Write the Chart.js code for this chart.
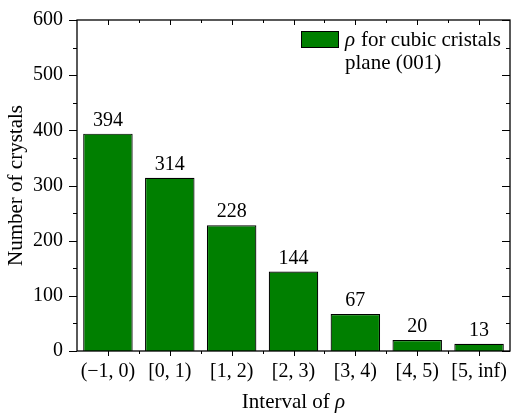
<!DOCTYPE html>
<html lang="en">
  <head>
    <meta charset="UTF-8">
    <title>Crystals</title>
    <style>
      html, body { margin: 0; padding: 0; background: #fff; }
      #wrap { width: 513px; height: 413px; }
    </style>
  </head>
  <body>
    <div id="wrap"><canvas id="myChart" width="513" height="413"></canvas></div>

    <script src="https://cdn.jsdelivr.net/npm/chart.js"></script>
    <script>
      const categories = ["(\u22121, 0)", "[0, 1)", "[1, 2)", "[2, 3)", "[3, 4)", "[4, 5)", "[5, inf)"];
      const counts = [394, 314, 228, 144, 67, 20, 13];
      const yTicks = [0, 100, 200, 300, 400, 500, 600];
      const legendLines = ["for cubic cristals", "plane (001)"];

      const serif = "'Liberation Serif', 'DejaVu Serif', serif";

      // frame, ticks, value labels, legend, x title
      const decor = {
        id: "decor",
        afterDatasetsDraw(chart) {
          const c = chart.ctx;
          const a = chart.chartArea;
          const x = chart.scales.x, y = chart.scales.y;
          c.save();
          c.strokeStyle = "#000";
          c.lineWidth = 1.3;
          c.strokeRect(a.left, a.top, a.right - a.left, a.bottom - a.top);

          c.lineWidth = 1;
          c.beginPath();
          for (let v = 0; v <= 600; v += 50) {
            const py = Math.round(y.getPixelForValue(v)) + 0.5;
            const len = v % 100 === 0 ? 8 : 4;
            c.moveTo(a.left - len, py); c.lineTo(a.left, py);
            c.moveTo(a.right, py); c.lineTo(a.right - len, py);
          }
          for (let i = 0; i < categories.length; i++) {
            const px = Math.round(x.getPixelForValue(i)) + 0.5;
            c.moveTo(px, a.bottom); c.lineTo(px, a.bottom + 5);
            c.moveTo(px, a.top); c.lineTo(px, a.top + 5);
            if (i > 0) {
              const bx = Math.round(x.getPixelForValue(i - 0.5)) + 0.5;
              c.moveTo(bx, a.bottom); c.lineTo(bx, a.bottom + 3);
              c.moveTo(bx, a.top); c.lineTo(bx, a.top + 3);
            }
          }
          c.stroke();

          // value labels
          c.fillStyle = "#000";
          c.font = "20px " + serif;
          c.textAlign = "center";
          c.textBaseline = "bottom";
          chart.getDatasetMeta(0).data.forEach((bar, i) => {
            c.fillText(String(counts[i]), bar.x, bar.y - 3);
          });

          // legend (no box)
          c.fillStyle = "#007f00";
          c.fillRect(301, 31, 38, 17);
          c.strokeStyle = "#000";
          c.strokeRect(301.5, 31.5, 37, 16);
          c.fillStyle = "#000";
          c.textAlign = "left";
          c.textBaseline = "middle";
          c.font = "italic 21px " + serif;
          c.fillText("\u03c1", 345, 40);
          const rw = c.measureText("\u03c1").width + 6;
          c.font = "21px " + serif;
          c.fillText(legendLines[0], 345 + rw, 40);
          c.fillText(legendLines[1], 345, 63);

          // x title
          c.font = "21px " + serif;
          const t1 = "Interval of ";
          const w1 = c.measureText(t1).width;
          c.font = "italic 21px " + serif;
          const w2 = c.measureText("\u03c1").width;
          const cx = (a.left + a.right) / 2;
          const sx = cx - (w1 + w2) / 2;
          c.font = "21px " + serif;
          c.fillText(t1, sx, 402);
          c.font = "italic 21px " + serif;
          c.fillText("\u03c1", sx + w1, 402);
          c.restore();
        }
      };

      const ctx = document.getElementById("myChart");
      const chart = new Chart(ctx, {
        type: "bar",
        data: {
          labels: categories,
          datasets: [{
            label: "\u03c1 for cubic cristals plane (001)",
            data: counts,
            backgroundColor: "#007f00",
            borderColor: "#000",
            borderWidth: 1.2,
            barPercentage: 0.8,
            categoryPercentage: 1.0
          }]
        },
        options: {
          responsive: false,
          animation: false,
          layout: { padding: { left: 0, top: 20, right: 3, bottom: 0 } },
          plugins: { legend: { display: false }, tooltip: { enabled: false } },
          scales: {
            x: {
              grid: { display: false },
              border: { display: false },
              ticks: { color: "#000", font: { family: serif, size: 20 }, padding: 1, maxRotation: 0 },
              afterFit(s) { s.height = 62; }
            },
            y: {
              min: 0,
              max: 600,
              afterBuildTicks(s) { s.ticks = yTicks.map(v => ({ value: v })); },
              grid: { display: false },
              border: { display: false },
              ticks: { color: "#000", font: { family: serif, size: 20 }, padding: 6 },
              title: { display: true, text: "Number of crystals", color: "#000", font: { family: serif, size: 21 }, padding: { top: 4, bottom: 0 } },
              afterFit(s) { s.width = 77; }
            }
          }
        },
        plugins: [decor]
      });
    </script>
  </body>
</html>
